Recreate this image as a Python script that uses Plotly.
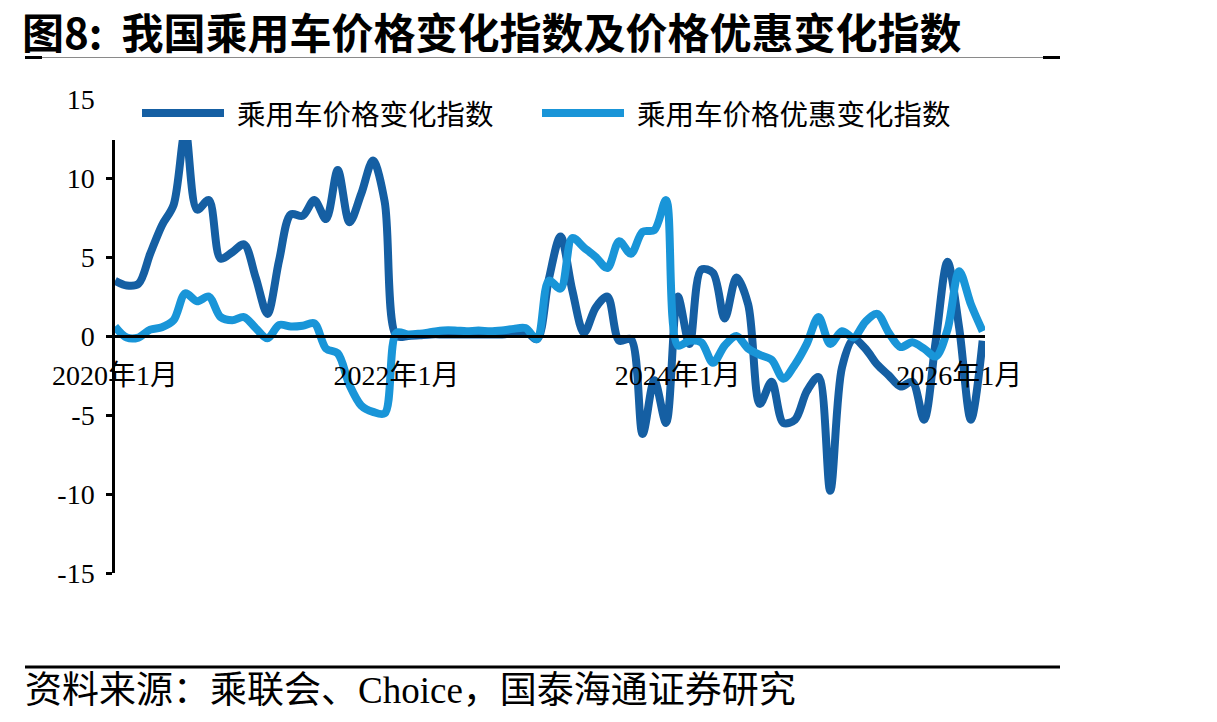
import plotly.graph_objects as go
import pandas as pd

# ---------------- data ----------------
months = pd.date_range("2020-01-01", periods=75, freq="MS").strftime("%Y-%m").tolist()

price_change = [
    3.5, 3.2, 3.3, 5.2, 7.0, 8.3, 13.0, 8.0, 8.6, 4.9, 5.3, 5.8,
    3.7, 1.4, 4.8, 7.7, 7.6, 8.6, 7.4, 10.5, 7.2, 9.0, 11.1, 8.5,
    0.0, 0.0, 0.05, 0.1, 0.1, 0.1, 0.1, 0.1, 0.1, 0.1, 0.2, 0.3,
    -0.2, 3.6, 6.3, 2.9, 0.2, 1.8, 2.5, -0.3, -0.2, -6.2, -2.8, -5.5,
    2.5, -0.5, 4.2, 4.0, 1.1, 3.7, 2.0, -4.3, -2.9, -5.5, -5.3, -3.5,
    -2.6, -9.8, -2.0, -0.2, -0.8, -1.8, -2.5, -3.2, -2.9, -5.3, -0.3, 4.7,
    0.5, -5.3, -0.3,
]

discount_change = [
    0.6, -0.1, -0.1, 0.4, 0.55, 1.0, 2.7, 2.2, 2.5, 1.2, 1.0, 1.2,
    0.5, -0.15, 0.7, 0.6, 0.65, 0.8, -0.8, -1.1, -3.1, -4.4, -4.8, -4.9,
    0.2, 0.1, 0.15, 0.25, 0.35, 0.35, 0.3, 0.35, 0.3, 0.35, 0.45, 0.5,
    -0.2, 3.5, 3.0, 6.2, 5.6, 5.0, 4.3, 6.0, 5.2, 6.6, 6.7, 8.6,
    -0.6, -0.3, -0.4, -1.7, -0.6, 0.0, -0.8, -1.2, -1.5, -2.7, -1.8, -0.5,
    1.2, -0.5, 0.3, -0.1, 0.9, 1.4, 0.2, -0.7, -0.4, -0.8, -1.3, 0.4,
    4.1, 2.0, 0.3,
]

series_names = ["乘用车价格变化指数", "乘用车价格优惠变化指数"]
tick_months = ["2020-01", "2022-01", "2024-01", "2026-01"]
tick_labels = ["2020年1月", "2022年1月", "2024年1月", "2026年1月"]
y_ticks = [-15, -10, -5, 0, 5, 10, 15]
y_tick_labels = ["-15", "-10", "-5", "0", "5", "10", "15"]

title_text = "图8:  我国乘用车价格变化指数及价格优惠变化指数"
source_text = "资料来源：乘联会、Choice，国泰海通证券研究"

# ---------------- style ----------------
DARK = "#155FA3"
LIGHT = "#1995D8"
SERIF = "Liberation Serif, Times New Roman, Noto Sans CJK SC, serif"
CJK = "Noto Sans CJK SC, sans-serif"

W, H = 1217, 722
L, R, T, B = 115, 985, 99, 573  # plot area in pixels


def px(x):
    return (x - L) / (R - L)


def py(y):
    return (B - y) / (B - T)


fig = go.Figure()
fig.add_trace(go.Scatter(
    x=months, y=price_change, mode="lines", name=series_names[0],
    line=dict(color=DARK, width=8, shape="spline", smoothing=0.9),
    showlegend=False,
))
fig.add_trace(go.Scatter(
    x=months, y=discount_change, mode="lines", name=series_names[1],
    line=dict(color=LIGHT, width=8, shape="spline", smoothing=0.9),
    showlegend=False,
))

shapes = []
# white band covering top of plot (legend area)
shapes.append(dict(type="rect", xref="paper", yref="paper",
                   x0=px(106), x1=px(995), y0=py(140), y1=py(80),
                   fillcolor="white", line=dict(width=0), layer="above"))
# legend lines
shapes.append(dict(type="line", xref="paper", yref="paper",
                   x0=px(142), x1=px(224), y0=py(113), y1=py(113),
                   line=dict(color=DARK, width=8), layer="above"))
shapes.append(dict(type="line", xref="paper", yref="paper",
                   x0=px(542), x1=px(624), y0=py(113), y1=py(113),
                   line=dict(color=LIGHT, width=8), layer="above"))
# title rule
shapes.append(dict(type="line", xref="paper", yref="paper",
                   x0=px(25), x1=px(1060), y0=py(57.5), y1=py(57.5),
                   line=dict(color="#8a8a8a", width=1), layer="above"))
shapes.append(dict(type="line", xref="paper", yref="paper",
                   x0=px(25), x1=px(42), y0=py(57.5), y1=py(57.5),
                   line=dict(color="black", width=3), layer="above"))
shapes.append(dict(type="line", xref="paper", yref="paper",
                   x0=px(1043), x1=px(1060), y0=py(57.5), y1=py(57.5),
                   line=dict(color="black", width=3), layer="above"))
# bottom rule
shapes.append(dict(type="line", xref="paper", yref="paper",
                   x0=px(25), x1=px(1060), y0=py(667), y1=py(667),
                   line=dict(color="black", width=3), layer="above"))

annotations = [
    dict(text="<b>" + title_text + "</b>", xref="paper", yref="paper",
         x=px(20), y=py(31), xanchor="left", yanchor="middle", showarrow=False,
         font=dict(family=CJK, size=42, color="black")),
    dict(text=series_names[0], xref="paper", yref="paper",
         x=px(235), y=py(113), xanchor="left", yanchor="middle", showarrow=False,
         font=dict(family=CJK, size=28.5, color="black")),
    dict(text=series_names[1], xref="paper", yref="paper",
         x=px(635), y=py(113), xanchor="left", yanchor="middle", showarrow=False,
         font=dict(family=CJK, size=28.5, color="black")),
    dict(text=source_text, xref="paper", yref="paper",
         x=px(23), y=py(690), xanchor="left", yanchor="middle", showarrow=False,
         font=dict(family=SERIF, size=37, color="black")),
]

fig.update_layout(
    width=W, height=H,
    margin=dict(l=L, r=W - R, t=T, b=H - B, pad=0),
    paper_bgcolor="white", plot_bgcolor="white",
    shapes=shapes, annotations=annotations,
    showlegend=False,
    xaxis=dict(
        type="category", range=[0, 74.2],
        anchor="free", position=0.5,
        showline=True, linecolor="black", linewidth=3,
        showgrid=False, zeroline=False, ticks="",
        tickmode="array", tickvals=tick_months, ticktext=tick_labels,
        tickangle=0, ticklabelstandoff=13,
        tickfont=dict(family=SERIF, size=28, color="black"),
    ),
    yaxis=dict(
        range=[-15, 15], tickmode="array", tickvals=y_ticks, ticktext=y_tick_labels,
        showline=True, linecolor="black", linewidth=2.5,
        ticks="outside", ticklen=6, tickwidth=2.5, tickcolor="black",
        showgrid=False, zeroline=False,
        tickfont=dict(family=SERIF, size=28, color="black"),
        ticklabelstandoff=6,
    ),
)

fig.write_html("out.html")
